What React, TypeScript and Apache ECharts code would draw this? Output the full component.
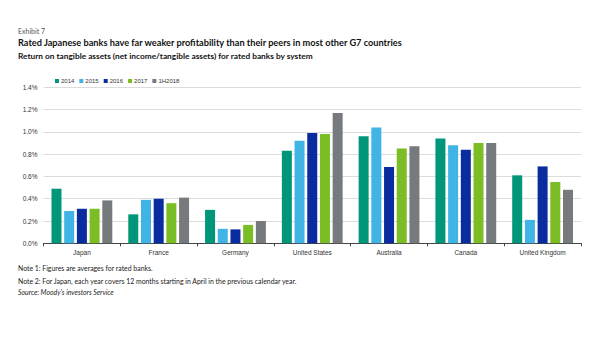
import React, { useEffect, useRef } from "react";
import * as echarts from "echarts";

const categories = ["Japan", "France", "Germany", "United States", "Australia", "Canada", "United Kingdom"];
const seriesNames = ["2014", "2015", "2016", "2017", "1H2018"];
const s2014 = [0.49, 0.26, 0.30, 0.83, 0.96, 0.94, 0.61];
const s2015 = [0.29, 0.39, 0.13, 0.92, 1.04, 0.88, 0.21];
const s2016 = [0.31, 0.40, 0.125, 0.99, 0.685, 0.84, 0.69];
const s2017 = [0.31, 0.36, 0.165, 0.98, 0.85, 0.90, 0.55];
const s1H2018 = [0.385, 0.41, 0.20, 1.17, 0.87, 0.90, 0.48];
const colors = ["#00967a", "#3fb4e5", "#0a2c9e", "#7bbd25", "#777a7c"];
const yTicks = [0, 0.2, 0.4, 0.6, 0.8, 1.0, 1.2, 1.4];

export default function App() {
  const ref = useRef<HTMLDivElement>(null);
  useEffect(() => {
    const chart = echarts.init(ref.current!, null, { renderer: "svg" });
    const data = [s2014, s2015, s2016, s2017, s1H2018];
    const textFont = "Lato, 'Open Sans', sans-serif";
    chart.setOption({
      animation: false,
      textStyle: { fontFamily: "'Liberation Sans', Arial, sans-serif" },
      legend: {
        left: 50,
        top: 73,
        itemWidth: 4,
        itemHeight: 4,
        itemGap: 5,
        icon: "rect",
        textStyle: { fontSize: 6, color: "#333", padding: [0, 0, 0, -3] },
        data: seriesNames,
      },
      grid: { left: 43.5, right: 19, top: 87.3, bottom: 116.7, containLabel: false },
      xAxis: {
        type: "category",
        data: categories,
        axisLine: { lineStyle: { color: "#444", width: 1 } },
        axisTick: { show: true, length: 3, lineStyle: { color: "#444" } },
        axisLabel: { fontSize: 6.5, color: "#333", margin: 6 },
      },
      yAxis: {
        type: "value",
        min: yTicks[0],
        max: yTicks[yTicks.length - 1],
        interval: 0.2,
        axisLine: { show: false },
        axisTick: { show: false },
        splitLine: { lineStyle: { color: "#dcdcdc", width: 1 } },
        axisLabel: {
          fontSize: 6.5,
          color: "#333",
          margin: 6,
          formatter: (v: number) => v.toFixed(1) + "%",
        },
      },
      series: seriesNames.map((n, i) => ({
        name: n,
        type: "bar",
        data: data[i],
        barWidth: 10,
        barGap: "27%",
        itemStyle: { color: colors[i] },
      })),
      graphic: [
        { type: "text", left: 18, top: 27, style: { text: "Exhibit 7", fontSize: 7, fill: "#555", fontFamily: textFont } },
        {
          type: "text",
          left: 18,
          top: 37.5,
          style: {
            text: "Rated Japanese banks have far weaker profitability than their peers in most other G7 countries",
            fontSize: 9.2,
            fontWeight: "bold",
            fill: "#111",
            fontFamily: textFont,
          },
        },
        {
          type: "text",
          left: 18,
          top: 52,
          style: {
            text: "Return on tangible assets (net income/tangible assets) for rated banks by system",
            fontSize: 8.3,
            fontWeight: "bold",
            fill: "#111",
            fontFamily: textFont,
          },
        },
        { type: "text", left: 18, top: 264, style: { text: "Note 1: Figures are averages for rated banks.", fontSize: 6.9, fill: "#222", fontFamily: textFont } },
        { type: "text", left: 18, top: 277, style: { text: "Note 2: For Japan, each year covers 12 months starting in April in the previous calendar year.", fontSize: 6.9, fill: "#222", fontFamily: textFont } },
        { type: "text", left: 18, top: 288, style: { text: "Source: Moody's investors Service", fontSize: 6.9, fontStyle: "italic", fill: "#222", fontFamily: textFont } },
      ],
    });
    return () => chart.dispose();
  }, []);
  return <div ref={ref} style={{ width: 600, height: 360, position: "absolute", left: 0, top: 0 }} />;
}
